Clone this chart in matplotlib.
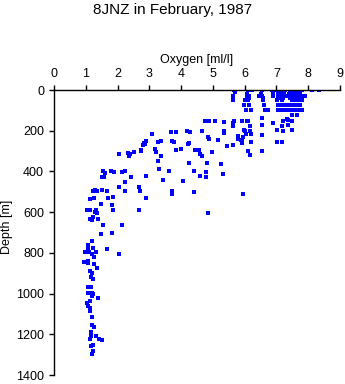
"""Oxygen profile for station group 8JNZ, February 1987."""

import matplotlib
matplotlib.use("Agg")
import matplotlib.pyplot as plt

plt.rcParams["font.family"] = ["Liberation Sans", "DejaVu Sans"]
plt.rcParams["font.size"] = 9

# standard bottle depths in the mixed layer [m] and the oxygen values found there [ml/l]
band_depths = [2, 10, 20, 30, 40, 50, 75, 100, 123]
band_oxygen = [
    [5.68, 6.12, 6.24, 6.54, 6.85, 7.03, 7.11, 7.16, 7.22, 7.27, 7.43, 7.50, 7.60, 7.70, 7.80, 8.11, 8.34],
    [5.70, 6.90, 7.06, 7.14, 7.25, 7.45, 7.55, 7.65, 7.75],
    [6.08, 6.50, 7.10, 7.20, 7.40, 7.52, 7.62, 7.72],
    [5.62, 6.06, 6.15, 6.46, 6.56, 6.90, 7.06, 7.16, 7.27, 7.37, 7.48, 7.60, 7.70, 7.85, 7.90],
    [5.64, 6.15, 6.58, 7.10, 7.22, 7.42, 7.56, 7.68],
    [5.64, 6.01, 6.12, 6.59, 7.01, 7.16, 7.48, 7.59, 7.69, 7.79],
    [5.98, 6.15, 6.61, 7.06, 7.11, 7.20, 7.30, 7.43, 7.53, 7.64, 7.74],
    [6.04, 6.19, 6.64, 6.74, 7.06, 7.16, 7.27, 7.37, 7.48, 7.59, 7.69, 7.79],
    [7.50, 7.64],
]

# thermocline / oxycline samples
mid_oxygen = [
    4.76, 4.89, 5.08, 5.35, 5.62, 5.66, 5.91, 6.06, 6.12, 6.54, 6.88, 7.22, 7.32, 7.37, 7.48,
    5.64, 6.17, 6.54, 7.16, 7.37,
    3.09, 3.67, 3.84, 4.19, 4.28, 4.65, 5.36, 5.98, 6.01, 6.17, 7.03, 7.22, 7.48,
    5.35, 6.04, 6.19, 6.56, 4.86, 5.80, 5.94,
    2.82, 2.90, 2.86, 3.28, 3.37, 3.70, 3.78, 4.23, 4.87, 5.17, 5.79, 5.89, 5.93, 5.91, 6.19, 7.01, 7.16,
    2.81, 4.25, 5.44, 5.62,
    2.73, 2.74, 3.18, 3.20, 3.84, 4.00, 4.44, 4.57, 4.60, 4.98, 6.09, 6.54,
    2.06, 2.34, 2.40, 2.37, 2.53, 3.38, 4.67, 6.17,
    3.27, 4.25, 4.82, 5.24,
    1.53, 1.60, 1.78, 1.89, 2.14, 2.24, 1.52, 1.58, 2.43, 2.88, 3.31, 3.63, 4.41, 4.59, 4.78, 4.78, 5.33,
    3.42, 4.05, 2.23,
    2.06, 2.69,
    1.22, 1.29, 1.36, 1.50, 1.66, 2.23, 2.71, 3.72, 3.72, 4.41, 5.94,
    1.13, 1.27, 1.69, 1.87, 2.90,
    1.48, 1.82,
    1.05, 1.13, 1.32, 1.87, 2.68,
    1.29, 1.34, 4.86,
    1.24, 1.13, 1.19, 1.40,
    1.55, 2.13, 1.83, 1.49,
]
mid_depth = [
    150, 152, 150, 157, 160, 150, 152, 152, 150, 139, 160, 152, 143, 147, 150,
    175, 178, 172, 175, 172,
    218, 205, 205, 203, 205, 201, 200, 198, 203, 200, 198, 200, 195,
    212, 215, 216, 221, 231, 228, 233,
    258, 252, 265, 253, 250, 250, 254, 265, 240, 245, 240, 248, 252, 258, 255, 255, 255,
    270, 262, 273, 272,
    295, 300, 292, 303, 295, 290, 295, 297, 314, 305, 300, 300,
    315, 307, 312, 325, 305, 323, 325, 320,
    347, 357, 360, 362,
    400, 410, 398, 403, 405, 400, 425, 428, 425, 422, 388, 396, 398, 422, 402, 427, 412,
    443, 446, 453,
    475, 475,
    495, 493, 497, 491, 495, 495, 496, 496, 510, 502, 510,
    535, 530, 532, 527, 532,
    558, 566,
    590, 588, 590, 590, 589,
    600, 605, 605,
    623, 635, 640, 632,
    664, 663, 700, 708,
]

# deep water below the oxygen minimum
deep_oxygen = [
    1.21, 1.08, 1.24, 1.08, 1.68, 0.98, 1.11, 1.32, 1.19, 2.06,
    1.27, 0.95, 1.06, 1.08, 1.26, 1.36, 1.13, 1.21, 1.16, 1.24,
    1.08, 1.15, 1.06, 1.19, 1.24, 1.19, 1.39, 1.14, 1.04, 1.08,
    1.13, 1.13, 1.19, 1.19, 1.27, 1.16, 1.15, 1.32, 1.13, 1.43,
    1.51, 1.15, 1.22, 1.24, 1.19,
]
deep_depth = [
    740, 763, 777, 783, 781, 795, 798, 796, 804, 806,
    822, 845, 842, 852, 857, 875, 891, 901, 917, 927,
    970, 966, 999, 996, 1002, 1011, 1024, 1035, 1048, 1060,
    1073, 1084, 1115, 1156, 1166, 1189, 1210, 1210, 1223, 1225,
    1228, 1258, 1255, 1282, 1299,
]

x_ticks = list(range(0, 10))
y_ticks = list(range(0, 1401, 200))


def main():
    fig = plt.figure(figsize=(3.45, 3.84), dpi=100)
    ax = fig.add_axes([0.1565, 0.0234, 0.829, 0.7422])

    marker = dict(marker="s", markersize=2.2, color="#0000ff", markeredgewidth=0, linestyle="none")
    for d, values in zip(band_depths, band_oxygen):
        ax.plot(values, [d] * len(values), **marker)
    ax.plot(mid_oxygen, mid_depth, **marker)
    ax.plot(deep_oxygen, deep_depth, **marker)

    ax.set_xlim(0, 9)
    ax.set_ylim(1400, 0)
    ax.set_xticks(x_ticks)
    ax.set_yticks(y_ticks)

    ax.xaxis.tick_top()
    ax.xaxis.set_label_position("top")
    ax.spines["right"].set_visible(False)
    ax.spines["bottom"].set_visible(False)
    for side in ("top", "left"):
        ax.spines[side].set_linewidth(1.0)
    ax.tick_params(direction="out", length=3.6, width=1.0, pad=3.5, labelsize=9)

    ax.set_xlabel("Oxygen [ml/l]", fontsize=9, labelpad=4)
    ax.set_ylabel("Depth [m]", fontsize=9)
    ax.yaxis.set_label_coords(-0.143, 0.52)

    fig.text(0.5, 0.974, "8JNZ in February, 1987", ha="center", va="center", fontsize=11)

    fig.savefig("out.png", dpi=100)
    plt.close(fig)


if __name__ == "__main__":
    main()
